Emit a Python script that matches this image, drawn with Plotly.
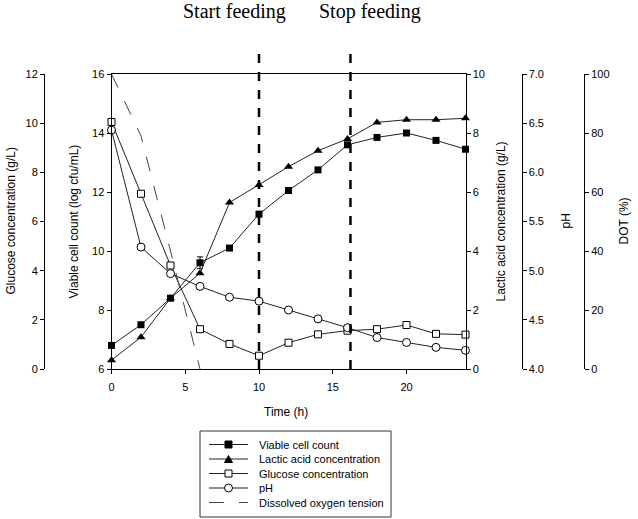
import plotly.graph_objects as go

time_h = [0, 2, 4, 6, 8, 10, 12, 14, 16, 18, 20, 22, 24]
viable = [6.8, 7.5, 8.4, 9.6, 10.1, 11.25, 12.05, 12.75, 13.6, 13.85, 14.0, 13.75, 13.45]
viable_err = [0, 0, 0, 0.2, 0, 0, 0, 0, 0, 0, 0, 0, 0]
lactic = [0.3, 1.08, 2.4, 3.25, 5.64, 6.24, 6.86, 7.4, 7.8, 8.36, 8.45, 8.45, 8.5]
glucose = [10.05, 7.13, 4.21, 1.62, 1.02, 0.54, 1.07, 1.41, 1.56, 1.62, 1.79, 1.43, 1.4]
ph = [6.43, 5.24, 4.97, 4.84, 4.73, 4.69, 4.6, 4.51, 4.42, 4.32, 4.27, 4.22, 4.19]
dot_time = [0, 2, 4, 6]
dot = [100, 79, 40, 0]
feed_times = [10, 16.2]
feed_labels = ["Start feeding", "Stop feeding"]
legend_names = ["Viable cell count", "Lactic acid concentration", "Glucose concentration",
                "pH", "Dissolved oxygen tension"]

W, H = 638, 519
ML, MR, MT, MB = 0, 0, 74, 150
PW = W - ML - MR
PH = H - MT - MB


def px(x):
    return (x - ML) / PW


def py(y):
    return (H - MB - y) / PH


FONT = "Liberation Sans, Arial, sans-serif"
lc = "#222222"

fig = go.Figure()
fig.add_trace(go.Scatter(x=time_h, y=viable, name=legend_names[0], yaxis="y",
                         mode="lines+markers", cliponaxis=False, showlegend=False,
                         line=dict(color=lc, width=1),
                         marker=dict(symbol="square", size=7, color="black"),
                         error_y=dict(type="data", array=viable_err, color="black", thickness=1, width=3)))
fig.add_trace(go.Scatter(x=time_h, y=lactic, name=legend_names[1], yaxis="y3",
                         mode="lines+markers", cliponaxis=False, showlegend=False,
                         line=dict(color=lc, width=1),
                         marker=dict(symbol="triangle-up", size=8, color="black")))
fig.add_trace(go.Scatter(x=time_h, y=glucose, name=legend_names[2], yaxis="y2",
                         mode="lines+markers", cliponaxis=False, showlegend=False,
                         line=dict(color=lc, width=1),
                         marker=dict(symbol="square", size=7, color="white",
                                     line=dict(color="black", width=1))))
fig.add_trace(go.Scatter(x=time_h, y=ph, name=legend_names[3], yaxis="y4",
                         mode="lines+markers", cliponaxis=False, showlegend=False,
                         line=dict(color=lc, width=1),
                         marker=dict(symbol="circle", size=8, color="white",
                                     line=dict(color="black", width=1))))
fig.add_trace(go.Scatter(x=dot_time, y=dot, name=legend_names[4], yaxis="y5",
                         mode="lines", cliponaxis=False, showlegend=False,
                         line=dict(color="#444444", width=1, dash="longdash")))

for t in feed_times:
    fig.add_shape(type="line", xref="x", yref="paper", x0=t, x1=t,
                  y0=0, y1=py(45), line=dict(color="black", width=2.5, dash="dash"))

axcommon = dict(showline=True, linecolor="black", linewidth=1, ticks="outside",
                ticklen=4, tickcolor="black", showgrid=False, zeroline=False,
                tickfont=dict(size=11, color="black", family=FONT))

fig.update_layout(
    width=W, height=H,
    margin=dict(l=ML, r=MR, t=MT, b=MB, autoexpand=False),
    paper_bgcolor="white", plot_bgcolor="white",
    showlegend=False,
    font=dict(family=FONT, color="black", size=11),
    xaxis=dict(domain=[px(111.5), px(465.5)], range=[0, 24], tickvals=[0, 5, 10, 15, 20],
               mirror=True, ticklabelstandoff=4, **axcommon),
    yaxis=dict(range=[6, 16], dtick=2, anchor="x", side="left", **axcommon),
    yaxis2=dict(range=[0, 12], dtick=2, overlaying="y", anchor="free", side="left",
                position=px(44), **axcommon),
    yaxis3=dict(range=[0, 10], dtick=2, overlaying="y", anchor="x", side="right", **axcommon),
    yaxis4=dict(range=[4, 7], dtick=0.5, tickformat=".1f", overlaying="y", anchor="free",
                side="right", position=px(521.5), **axcommon),
    yaxis5=dict(range=[0, 100], dtick=20, overlaying="y", anchor="free", side="right",
                position=px(584), **axcommon),
)

titles = [
    ("Glucose concentration (g/L)", 10),
    ("Viable cell count (log cfu/mL)", 73),
    ("Lactic acid concentration (g/L)", 500),
    ("pH", 565),
    ("DOT (%)", 623),
]
for text, x in titles:
    fig.add_annotation(text=text, x=px(x), y=0.5, xref="paper", yref="paper",
                       showarrow=False, textangle=-90, xanchor="center", yanchor="middle",
                       font=dict(size=12, family=FONT, color="black"))

fig.add_annotation(text="Time (h)", x=px(286), y=py(412), xref="paper", yref="paper",
                   showarrow=False, xanchor="center", yanchor="middle",
                   font=dict(size=12, family=FONT, color="black"))

for lbl, cx in zip(feed_labels, [234.5, 370]):
    fig.add_annotation(text=lbl, x=px(cx), y=py(11), xref="paper", yref="paper",
                       showarrow=False, xanchor="center", yanchor="middle",
                       font=dict(size=20, family="Liberation Serif, Times New Roman, serif",
                                 color="black"))

# hand-drawn legend box (compact row spacing like the reference)
LX0, LX1, LY0, LY1 = 200, 391, 431, 517
fig.add_shape(type="rect", xref="paper", yref="paper", x0=px(LX0), x1=px(LX1),
              y0=py(LY1), y1=py(LY0), line=dict(color="#333333", width=1), fillcolor="white")
row_y = [444.5, 459, 473.5, 488, 502.5]
kx0, kx1, kc = 209, 248, 228.5
for i, (name, yy) in enumerate(zip(legend_names, row_y)):
    if i < 4:
        fig.add_shape(type="line", xref="paper", yref="paper", x0=px(kx0), x1=px(kx1),
                      y0=py(yy), y1=py(yy), line=dict(color=lc, width=1))
    else:
        fig.add_shape(type="line", xref="paper", yref="paper", x0=px(kx0), x1=px(kx1),
                      y0=py(yy), y1=py(yy), line=dict(color="#444444", width=1, dash="longdash"))
    if i == 0:
        fig.add_shape(type="rect", xref="paper", yref="paper", x0=px(kc - 3.5), x1=px(kc + 3.5),
                      y0=py(yy + 3.5), y1=py(yy - 3.5), line=dict(color="black", width=1),
                      fillcolor="black")
    elif i == 1:
        path = "M {},{} L {},{} L {},{} Z".format(px(kc - 4), py(yy + 3.5), px(kc + 4), py(yy + 3.5),
                                               px(kc), py(yy - 3.5))
        fig.add_shape(type="path", xref="paper", yref="paper", path=path,
                      line=dict(color="black", width=1), fillcolor="black")
    elif i == 2:
        fig.add_shape(type="rect", xref="paper", yref="paper", x0=px(kc - 3.5), x1=px(kc + 3.5),
                      y0=py(yy + 3.5), y1=py(yy - 3.5), line=dict(color="black", width=1),
                      fillcolor="white")
    elif i == 3:
        fig.add_shape(type="circle", xref="paper", yref="paper", x0=px(kc - 4), x1=px(kc + 4),
                      y0=py(yy + 4), y1=py(yy - 4), line=dict(color="black", width=1),
                      fillcolor="white")
    fig.add_annotation(text=name, x=px(257), y=py(yy), xref="paper", yref="paper",
                       showarrow=False, xanchor="left", yanchor="middle",
                       font=dict(size=11, family=FONT, color="black"))

fig.write_html("out.html", config={"displayModeBar": False},
               post_script="document.body.style.margin='0px';")
